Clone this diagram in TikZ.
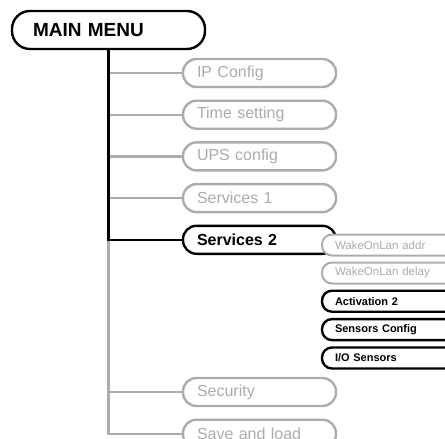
\documentclass[tikz,border=0pt]{standalone}
\usepackage{fontspec}
\setmainfont{Liberation Sans}
\usetikzlibrary{positioning}

\definecolor{offgray}{RGB}{172,172,172}

\tikzset{
  menu/.style={draw, line width=2.4pt, rounded corners=18pt, fill=white,
    minimum height=38pt, text width=151pt, inner xsep=21pt, inner ysep=0pt,
    align=left, font=\fontsize{19}{22}\selectfont\bfseries},
  item/.style={draw=offgray, text=offgray, line width=2.4pt, rounded corners=13.5pt,
    fill=white, minimum height=28pt, text width=125pt, inner xsep=14pt,
    inner ysep=0pt, align=left, font=\fontsize{16}{19}\selectfont},
  itemon/.style={item, draw=black, text=black,
    font=\fontsize{16}{19}\selectfont\bfseries},
  sub/.style={draw=offgray, text=offgray, line width=2pt, rounded corners=10pt,
    fill=white, minimum height=21pt, text width=200pt, inner xsep=13pt,
    inner ysep=0pt, align=left, font=\fontsize{11.5}{13}\selectfont},
  subon/.style={sub, draw=black, text=black, line width=2.4pt,
    font=\fontsize{11}{13}\selectfont\bfseries},
  wireoff/.style={draw=offgray, line width=2.4pt},
  wireon/.style={draw=black, line width=2.4pt},
}

\begin{document}
\begin{tikzpicture}

  \useasboundingbox (0,0) rectangle (445pt,-439pt);
  \clip (0,0) rectangle (445pt,-439pt);

  % Main menu
  \node[menu] (main) at (108.5pt,-30pt) {MAIN MENU};

  % First level entries
  \node[item] (ip) at (259.5pt,-73pt) {IP Config};
  \node[item, below=11.3pt of ip]     (time) {Time setting};
  \node[item, below=11.3pt of time]   (ups)  {UPS config};
  \node[item, below=11.3pt of ups]    (srv1) {Services 1};
  \node[itemon, below=11.3pt of srv1] (srv2) {Services 2};
  \node[item] (security) at (259.5pt,-392pt) {Security};
  \node[item, below=11.3pt of security] (saveload) {Save and load};

  % Tree
  \draw[wireoff] (main.south) -- (main.south |- saveload.west) -- (saveload.west);
  \foreach \entry in {ip, time, ups, srv1, security}
    \draw[wireoff] (main.south |- \entry.west) -- (\entry.west);
  \draw[wireon] (main.south) -- (main.south |- srv2.west) -- (srv2.west);

  % Entries of Services 2
  \node[sub, anchor=west] (wakeaddr) at (321pt,-245pt) {WakeOnLan addr};
  \node[sub, below=5pt of wakeaddr]    (wakedelay) {WakeOnLan delay};
  \node[subon, below=5pt of wakedelay] (activ)     {Activation 2};
  \node[subon, below=5pt of activ]     (sensconf)  {Sensors Config};
  \node[subon, below=5pt of sensconf]  (iosens)    {I/O Sensors};

\end{tikzpicture}
\end{document}
